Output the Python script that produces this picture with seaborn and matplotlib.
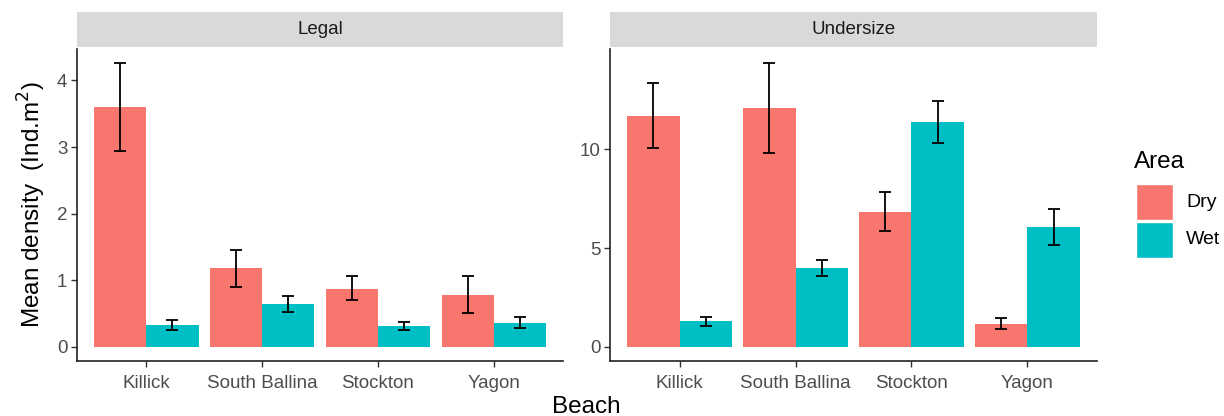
import numpy as np
import pandas as pd
import matplotlib
matplotlib.use("Agg")
import matplotlib.pyplot as plt
import seaborn as sns
from matplotlib.patches import Rectangle

beaches = ["Killick", "South Ballina", "Stockton", "Yagon"]
areas = ["Dry", "Wet"]
panels = ["Legal", "Undersize"]

legal_dry = [3.60, 1.18, 0.87, 0.78]
legal_dry_lo = [2.94, 0.90, 0.70, 0.51]
legal_dry_hi = [4.26, 1.46, 1.06, 1.06]
legal_wet = [0.33, 0.65, 0.31, 0.36]
legal_wet_lo = [0.25, 0.52, 0.25, 0.28]
legal_wet_hi = [0.41, 0.77, 0.38, 0.45]

under_dry = [11.71, 12.08, 6.84, 1.18]
under_dry_lo = [10.08, 9.83, 5.85, 0.89]
under_dry_hi = [13.39, 14.37, 7.82, 1.48]
under_wet = [1.29, 3.98, 11.39, 6.05]
under_wet_lo = [1.06, 3.58, 10.35, 5.16]
under_wet_hi = [1.51, 4.40, 12.44, 6.97]

palette = {"Dry": "#F8766D", "Wet": "#00BFC4"}

rows = []
for panel, dry, dlo, dhi, wet, wlo, whi in [
    ("Legal", legal_dry, legal_dry_lo, legal_dry_hi, legal_wet, legal_wet_lo, legal_wet_hi),
    ("Undersize", under_dry, under_dry_lo, under_dry_hi, under_wet, under_wet_lo, under_wet_hi),
]:
    for i, b in enumerate(beaches):
        rows.append(dict(Panel=panel, Beach=b, Area="Dry", Mean=dry[i], lo=dlo[i], hi=dhi[i]))
        rows.append(dict(Panel=panel, Beach=b, Area="Wet", Mean=wet[i], lo=wlo[i], hi=whi[i]))
df = pd.DataFrame(rows)

sns.set_theme(style="ticks")
plt.rcParams["font.family"] = ["Liberation Sans", "DejaVu Sans"]

fig = plt.figure(figsize=(12.24, 4.16), dpi=100)
W, H = 1224, 416
boxes = [(77, 563), (610, 1097)]
top_px, bot_px = 49, 361
strip_top, strip_bot = 12, 47

tick_col = "#4D4D4D"
for (x0, x1), panel in zip(boxes, panels):
    ax = fig.add_axes([x0 / W, 1 - bot_px / H, (x1 - x0) / W, (bot_px - top_px) / H])
    sub = df[df.Panel == panel]
    sns.barplot(data=sub, x="Beach", y="Mean", hue="Area", order=beaches,
                hue_order=areas, palette=palette, width=0.9, errorbar=None,
                saturation=1, ax=ax, legend=False, linewidth=0)
    # error bars at bar centres
    for j, a in enumerate(areas):
        cont = ax.containers[j]
        for k, patch in enumerate(cont.patches):
            r = sub[(sub.Area == a) & (sub.Beach == beaches[k])].iloc[0]
            xc = patch.get_x() + patch.get_width() / 2
            ax.errorbar([xc], [r.Mean], yerr=[[r.Mean - r.lo], [r.hi - r.Mean]],
                        fmt="none", ecolor="black", elinewidth=1.3, capsize=4.5,
                        capthick=1.3)
    ymax = sub.hi.max()
    ax.set_ylim(-0.05 * ymax, ymax * 1.05)
    ax.set_xlim(-0.6, 3.6)
    if panel == "Legal":
        ax.set_yticks([0, 1, 2, 3, 4])
    else:
        ax.set_yticks([0, 5, 10])
    ax.set_xlabel("")
    ax.set_ylabel("")
    for s in ["top", "right"]:
        ax.spines[s].set_visible(False)
    for s in ["left", "bottom"]:
        ax.spines[s].set_linewidth(1.2)
        ax.spines[s].set_color("#222222")
    ax.tick_params(axis="both", colors="#333333", labelcolor=tick_col,
                   labelsize=13.5, length=4, width=1.0, pad=3)
    ax.tick_params(axis="x", pad=6)
    # strip
    sax = fig.add_axes([x0 / W, 1 - strip_bot / H, (x1 - x0) / W, (strip_bot - strip_top) / H])
    sax.set_facecolor("#D9D9D9")
    sax.set_xticks([]); sax.set_yticks([])
    for s in sax.spines.values():
        s.set_visible(False)
    sax.text(0.5, 0.5, panel, ha="center", va="center", fontsize=13.5, color="#1A1A1A",
             transform=sax.transAxes)

fig.text(32 / W, 1 - 205 / H, "Mean density  (Ind.m$^2$)", rotation=90,
         ha="center", va="center", fontsize=17.5, color="black")
fig.text(586 / W, 1 - 407 / H, "Beach", ha="center", va="center", fontsize=17.5, color="black")

# legend
fig.text(1134 / W, 1 - 162 / H, "Area", ha="left", va="center", fontsize=17.5, color="black")
for i, a in enumerate(areas):
    ytop = 184 + i * 38
    fig.patches.append(Rectangle((1136 / W, 1 - (ytop + 36) / H), 37 / W, 36 / H,
                                 transform=fig.transFigure, facecolor=palette[a],
                                 edgecolor="white", linewidth=1))
    fig.text(1186 / W, 1 - (ytop + 18) / H, a, ha="left", va="center",
             fontsize=14, color="black")

fig.savefig("out.png", dpi=100)
